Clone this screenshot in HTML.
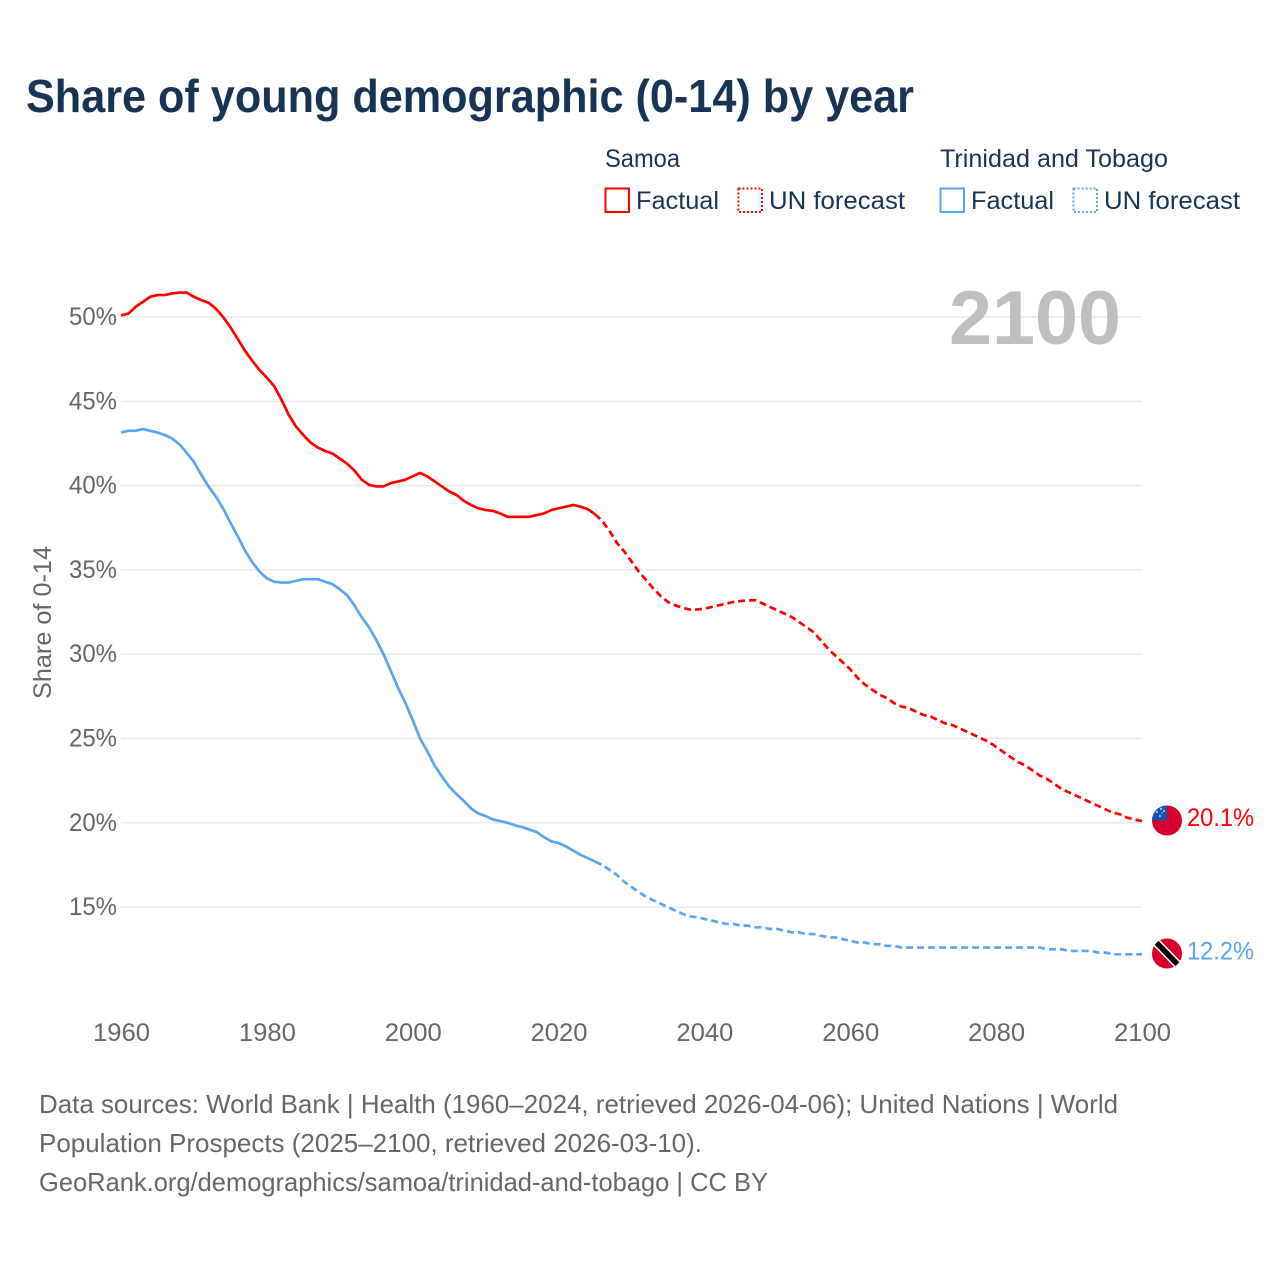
<!DOCTYPE html>
<html lang="en">
<head>
<meta charset="utf-8">
<title>Share of young demographic (0-14) by year</title>
<style>
html,body{margin:0;padding:0;background:#fff;width:1280px;height:1280px;overflow:hidden}
svg{display:block;font-family:"Liberation Sans",Arial,sans-serif}
</style>
</head>
<body>
<svg id="chart" width="1280" height="1280" viewBox="0 0 1280 1280" xmlns="http://www.w3.org/2000/svg">
  <rect width="1280" height="1280" fill="#fff"/>
  <text x="26" y="112" font-size="46" font-weight="700" fill="#173454" textLength="888" lengthAdjust="spacingAndGlyphs">Share of young demographic (0-14) by year</text>

  <g font-size="25" fill="#173454">
    <text x="605" y="167" textLength="75" lengthAdjust="spacingAndGlyphs">Samoa</text>
    <text x="940" y="167" textLength="228" lengthAdjust="spacingAndGlyphs">Trinidad and Tobago</text>
    <rect x="605.5" y="188.5" width="23.5" height="23.5" fill="none" stroke="#ff0000" stroke-width="2"/>
    <text x="636" y="209" textLength="83" lengthAdjust="spacingAndGlyphs">Factual</text>
    <rect x="738.5" y="188.5" width="23.5" height="23.5" fill="none" stroke="#ff0000" stroke-width="2" stroke-dasharray="2 2"/>
    <text x="769" y="209" textLength="136" lengthAdjust="spacingAndGlyphs">UN forecast</text>
    <rect x="940.5" y="188.5" width="23.5" height="23.5" fill="none" stroke="#5ba4ee" stroke-width="2"/>
    <text x="971" y="209" textLength="83" lengthAdjust="spacingAndGlyphs">Factual</text>
    <rect x="1073.5" y="188.5" width="23.5" height="23.5" fill="none" stroke="#5ba4ee" stroke-width="2" stroke-dasharray="2 2"/>
    <text x="1104" y="209" textLength="136" lengthAdjust="spacingAndGlyphs">UN forecast</text>
  </g>

  <g id="grid"></g>
  <text x="949" y="344" font-size="76" font-weight="700" fill="#bfbfbf" textLength="172" lengthAdjust="spacingAndGlyphs">2100</text>
  <g id="yticks" font-size="25" fill="#666666" text-anchor="end"></g>
  <g id="xticks" font-size="25" fill="#666666" text-anchor="middle"></g>
  <text transform="translate(51,699) rotate(-90)" font-size="25" fill="#666666" textLength="153" lengthAdjust="spacingAndGlyphs">Share of 0-14</text>
  <g id="lines"></g>

  <g id="flag-samoa">
    <clipPath id="clip-ws"><circle cx="1167" cy="820.5" r="15"/></clipPath>
    <g clip-path="url(#clip-ws)">
      <rect x="1152" y="805" width="30" height="31" fill="#d8002a"/>
      <rect x="1152" y="805" width="15" height="15.5" fill="#0f55b0"/>
      <g fill="#fff">
        <circle cx="1161" cy="809" r="0.9"/><circle cx="1157" cy="812" r="0.9"/><circle cx="1164" cy="811" r="0.9"/><circle cx="1160" cy="816" r="0.9"/><circle cx="1162" cy="813" r="0.6"/>
      </g>
    </g>
  </g>
  <g id="flag-trinidad">
    <clipPath id="clip-tt"><circle cx="1167" cy="953.5" r="15"/></clipPath>
    <g clip-path="url(#clip-tt)">
      <rect x="1152" y="938" width="30" height="31" fill="#d8002a"/>
      <line x1="1152" y1="938" x2="1182" y2="969" stroke="#fff" stroke-width="8.5"/>
      <line x1="1152" y1="938" x2="1182" y2="969" stroke="#000" stroke-width="5.5"/>
    </g>
  </g>
  <g id="endlabels" font-size="25"></g>

  <g font-size="26" fill="#666666">
    <text x="39" y="1113" textLength="1079" lengthAdjust="spacingAndGlyphs">Data sources: World Bank | Health (1960–2024, retrieved 2026-04-06); United Nations | World</text>
    <text x="39" y="1152" textLength="663" lengthAdjust="spacingAndGlyphs">Population Prospects (2025–2100, retrieved 2026-03-10).</text>
    <text x="39" y="1191" textLength="729" lengthAdjust="spacingAndGlyphs">GeoRank.org/demographics/samoa/trinidad-and-tobago | CC BY</text>
  </g>
</svg>
<script>
const xTickLabels = [1960, 1980, 2000, 2020, 2040, 2060, 2080, 2100];
const yTickLabels = [15, 20, 25, 30, 35, 40, 45, 50];
const factualStartYear = 1960;
const forecastStartYear = 2025;
const samoaFactual = [
  50.1, 50.2, 50.6, 50.9, 51.2, 51.3, 51.3, 51.4, 51.45, 51.45,
  51.2, 51.0, 50.85, 50.5, 50.0, 49.4, 48.7, 48.0, 47.4, 46.85,
  46.4, 45.9, 45.1, 44.2, 43.5, 43.0, 42.55, 42.25, 42.05, 41.9,
  41.6, 41.3, 40.9, 40.35, 40.05, 39.95, 39.95, 40.15, 40.25, 40.35,
  40.55, 40.75, 40.55, 40.25, 39.95, 39.65, 39.45, 39.1, 38.85, 38.65,
  38.55, 38.5, 38.35, 38.15, 38.15, 38.15, 38.15, 38.25, 38.35, 38.55,
  38.65, 38.75, 38.85, 38.75, 38.6, 38.3
];
const samoaForecast = [
  38.3, 37.9, 37.3, 36.6, 36.1, 35.5, 34.9, 34.4, 33.9, 33.45,
  33.1, 32.9, 32.75, 32.65, 32.65, 32.7, 32.8, 32.9, 33.0, 33.1,
  33.15, 33.2, 33.2, 33.0, 32.8, 32.6, 32.4, 32.2, 31.9, 31.6,
  31.3, 30.8, 30.3, 29.9, 29.5, 29.1, 28.6, 28.2, 27.9, 27.6,
  27.4, 27.1, 26.9, 26.8, 26.6, 26.4, 26.3, 26.1, 25.9, 25.8,
  25.6, 25.4, 25.2, 25.0, 24.8, 24.5, 24.2, 23.9, 23.6, 23.4,
  23.1, 22.8, 22.6, 22.3, 22.0, 21.8, 21.6, 21.4, 21.2, 21.0,
  20.8, 20.6, 20.5, 20.3, 20.2, 20.1
];
const trinidadFactual = [
  43.15, 43.25, 43.25, 43.35, 43.25, 43.15, 43.0, 42.8, 42.45, 41.95,
  41.4, 40.65, 39.95, 39.35, 38.65, 37.8, 37.0, 36.15, 35.45, 34.9,
  34.5, 34.3, 34.25, 34.25, 34.35, 34.45, 34.45, 34.45, 34.3, 34.15,
  33.85, 33.5, 32.9, 32.2, 31.6, 30.85, 30.0, 29.0, 28.0, 27.1,
  26.1, 25.0, 24.25, 23.4, 22.75, 22.15, 21.7, 21.3, 20.85, 20.55,
  20.4, 20.2, 20.1, 20.0, 19.85, 19.75, 19.6, 19.45, 19.15, 18.9,
  18.8, 18.6, 18.35, 18.1, 17.9, 17.7
];
const trinidadForecast = [
  17.7, 17.5, 17.2, 16.9, 16.5, 16.2, 15.9, 15.6, 15.4, 15.2,
  15.0, 14.8, 14.6, 14.45, 14.4, 14.3, 14.2, 14.1, 14.0, 14.0,
  13.9, 13.9, 13.8, 13.8, 13.7, 13.7, 13.6, 13.5, 13.5, 13.4,
  13.4, 13.3, 13.2, 13.2, 13.1, 13.0, 12.9, 12.9, 12.8, 12.8,
  12.7, 12.7, 12.6, 12.6, 12.6, 12.6, 12.6, 12.6, 12.6, 12.6,
  12.6, 12.6, 12.6, 12.6, 12.6, 12.6, 12.6, 12.6, 12.6, 12.6,
  12.6, 12.6, 12.5, 12.5, 12.5, 12.4, 12.4, 12.4, 12.4, 12.3,
  12.3, 12.2, 12.2, 12.2, 12.2, 12.2
];

const SVGNS = 'http://www.w3.org/2000/svg';
const xScale = year => 121 + (year - 1960) * (1021 / 140);
const yScale = value => 317 + (50 - value) * 16.86;
const RED = '#ff0000';
const BLUE = '#5ba4ee';

function make(tag, parent) {
  const el = document.createElementNS(SVGNS, tag);
  parent.appendChild(el);
  return el;
}
function linePath(values, startYear) {
  return values.map((v, i) =>
    (i ? 'L' : 'M') + xScale(startYear + i).toFixed(2) + ' ' + yScale(v).toFixed(2)).join(' ');
}
function drawSeries(values, startYear, color, dashed, name) {
  const p = make('path', document.getElementById('lines'));
  
  
  p.setAttribute('d', linePath(values, startYear));
  p.setAttribute('fill', 'none');
  p.setAttribute('stroke', color);
  p.setAttribute('stroke-width', '2.7');
  p.setAttribute('stroke-linejoin', 'round');
  if (dashed) p.setAttribute('stroke-dasharray', '7 4');
}

yTickLabels.forEach(v => {
  const g = make('line', document.getElementById('grid'));
  
  
  g.setAttribute('x1', xScale(1960));
  g.setAttribute('x2', xScale(2100));
  g.setAttribute('y1', yScale(v));
  g.setAttribute('y2', yScale(v));
  g.setAttribute('stroke', '#e8e8e8');
  g.setAttribute('stroke-width', '1.4');
  const t = make('text', document.getElementById('yticks'));
  
  
  t.setAttribute('x', 117);
  t.setAttribute('y', yScale(v) + 8);
  t.setAttribute('textLength', '48');
  t.setAttribute('lengthAdjust', 'spacingAndGlyphs');
  t.textContent = v + '%';
});
xTickLabels.forEach(year => {
  const t = make('text', document.getElementById('xticks'));
  
  
  t.setAttribute('x', xScale(year) + 0.5);
  t.setAttribute('y', 1041);
  t.setAttribute('textLength', '57');
  t.setAttribute('lengthAdjust', 'spacingAndGlyphs');
  t.textContent = year;
});

drawSeries(samoaFactual, factualStartYear, RED, false, 'samoa-factual-line');
drawSeries(samoaForecast, forecastStartYear, RED, true, 'samoa-forecast-line');
drawSeries(trinidadFactual, factualStartYear, BLUE, false, 'trinidad-factual-line');
drawSeries(trinidadForecast, forecastStartYear, BLUE, true, 'trinidad-forecast-line');

[[samoaForecast, RED, 'samoa-end-value'], [trinidadForecast, BLUE, 'trinidad-end-value']].forEach(item => {
  const last = item[0][item[0].length - 1];
  const t = make('text', document.getElementById('endlabels'));
  
  
  t.setAttribute('x', 1187);
  t.setAttribute('y', yScale(last) + 5);
  t.setAttribute('fill', item[1]);
  t.setAttribute('textLength', '67');
  t.setAttribute('lengthAdjust', 'spacingAndGlyphs');
  t.textContent = last.toFixed(1) + '%';
});
</script>
</body>
</html>
